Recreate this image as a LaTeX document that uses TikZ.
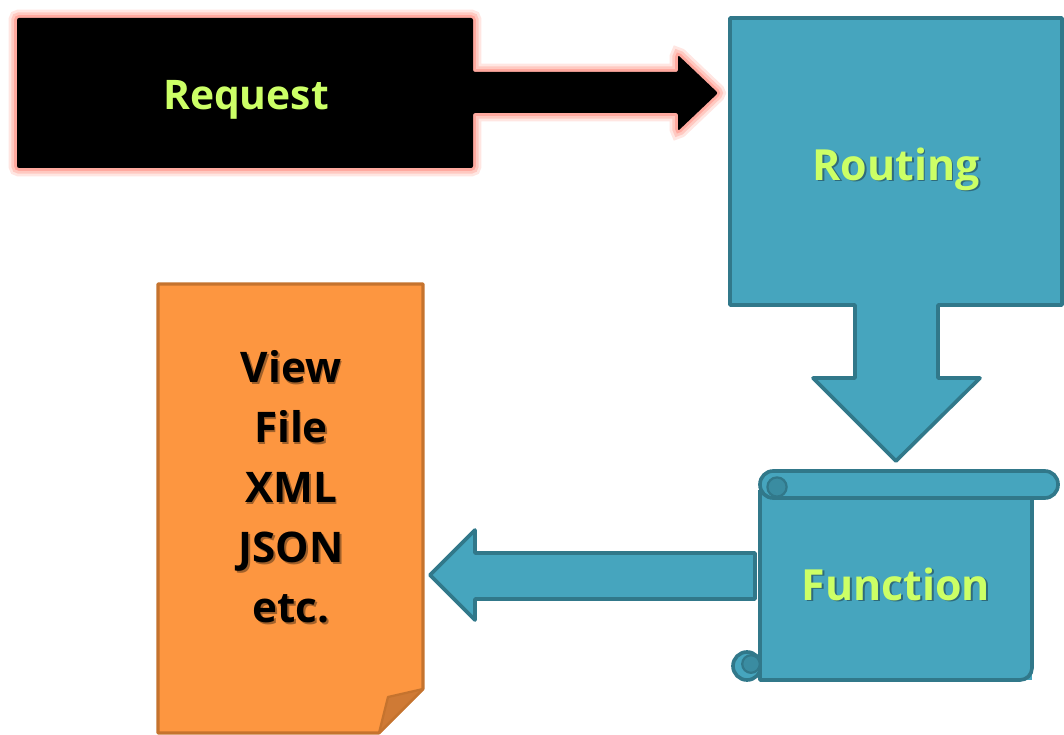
\documentclass[tikz,border=0pt]{standalone}
\usepackage{fontspec}
\setmainfont{Open Sans}
\definecolor{txtlime}{HTML}{CCFF66}
\definecolor{tealfill}{HTML}{46A5BE}
\definecolor{tealline}{HTML}{31788A}
\definecolor{tealshadow}{HTML}{2F6B7B}
\definecolor{orgfill}{HTML}{FD9640}
\definecolor{orgline}{HTML}{C5732E}
\definecolor{orgfold}{HTML}{CF7A35}
\definecolor{orgshadow}{HTML}{A0602A}
\definecolor{glowouter}{HTML}{FFE6E2}
\definecolor{glowmid}{HTML}{FFC9C1}
\definecolor{glowinner}{HTML}{FFA99F}
\newcommand{\shadowed}[2]{\makebox[0pt][l]{\hspace{1.3pt}\raisebox{-1.3pt}{\textcolor{#1}{#2}}}#2}

\begin{document}
\begin{tikzpicture}[x=0.025cm, y=-0.025cm,
    tealshape/.style={fill=tealfill, draw=tealline, line width=2.6pt, line join=round},
    curl/.style={fill=tealline!55!tealfill, draw=tealline, line width=1.6pt},
    labeltext/.style={anchor=base, text=txtlime, font=\bfseries\fontsize{30.5}{36}\selectfont}]
    \useasboundingbox (0,0) rectangle (1064,735);

    % request block with its glow
    \fill[black, rounded corners=1.5pt, line join=round,
        preaction={draw=glowouter, line width=12pt},
        preaction={draw=glowmid, line width=8pt},
        preaction={draw=glowinner, line width=4pt}]
        (17,18) -- (473,18) -- (473,72) -- (678,72) -- (678,55) -- (718,93)
        -- (678,131) -- (678,113) -- (473,113) -- (473,168) -- (17,168) -- cycle;
    \node (request) at (246,110) [anchor=base, text=txtlime, font=\bfseries\fontsize{29}{36}\selectfont] {Request};

    % routing box and its down arrow
    \draw[tealshape] (730,18) -- (1062,18) -- (1062,305) -- (938,305) -- (938,378) -- (980,378)
        -- (896,461) -- (813,378) -- (855,378) -- (855,305) -- (730,305) -- cycle;
    \node (routing) at (896,180) [labeltext] {\shadowed{tealshadow}{Routing}};

    % function scroll
    \draw[tealshape] (747,666) circle [radius=0.35cm];
    \fill[tealfill] (760,490) -- (760,680) -- (1032,680) -- (1032,490) -- cycle;
    \draw[tealshape, fill=none] (760,490) -- (760,680) [rounded corners=0.3cm] -- (1032,680) -- (1032,490);
    \draw[curl] (751,664) circle [radius=0.22cm];
    \draw[tealshape, rounded corners=0.33cm] (760,471) rectangle (1058,498);
    \draw[curl] (777,487) circle [radius=0.24cm];
    \node (function) at (896,600) [labeltext] {\shadowed{tealshadow}{Function}};

    % arrow back to the view
    \draw[tealshape] (755,553) -- (475,553) -- (475,530) -- (430,575) -- (475,620) -- (475,599) -- (755,599) -- cycle;

    % view document
    \draw[fill=orgfill, draw=orgline, line width=2.2pt, line join=round]
        (158,284) -- (423,284) -- (423,689) -- (379,733) -- (158,733) -- cycle;
    \draw[fill=orgfold, draw=orgline, line width=1.6pt, line join=round] (423,689) -- (388,697) -- (379,733) -- cycle;
    \node (view) at (291,488) [align=center, font=\bfseries\fontsize{30}{42.7}\selectfont]
        {\shadowed{orgshadow}{View}\\ \shadowed{orgshadow}{File}\\ \shadowed{orgshadow}{XML}\\
         \shadowed{orgshadow}{JSON}\\ \shadowed{orgshadow}{etc.}};
\end{tikzpicture}
\end{document}
